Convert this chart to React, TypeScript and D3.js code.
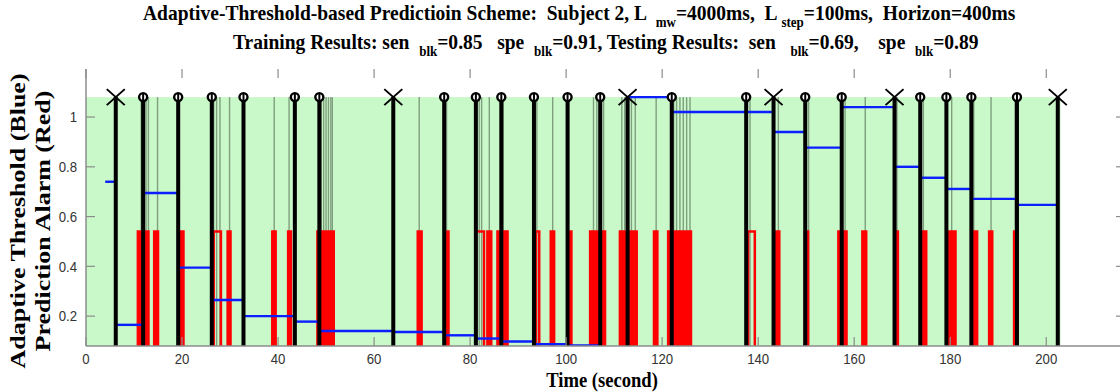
import * as d3 from "d3";

// seizure onsets: predicted (circle) and missed (cross)
const hitTimes = [11.9, 19.2, 26.2, 32.8, 43.5, 48.6, 74.6, 81.2, 86.5, 93.3, 100.3, 107.1, 122.0, 137.5, 149.8, 157.4, 173.75, 179.2, 184.4, 193.9];
const missTimes = [6.2, 64.0, 112.8, 143.2, 168.4, 202.4];

// adaptive threshold, one level per interval
const thrStart = [4.0, 6.2, 11.9, 19.2, 26.2, 32.8, 43.5, 48.6, 64.0, 74.6, 81.2, 86.5, 93.3, 100.3, 107.1, 112.8, 122.0, 143.2, 149.8, 157.4, 168.4, 173.75, 179.2, 184.4, 193.9];
const thrEnd = [6.2, 11.9, 19.2, 26.2, 32.8, 43.5, 48.6, 64.0, 74.6, 81.2, 86.5, 93.3, 100.3, 107.1, 112.8, 122.0, 143.2, 149.8, 157.4, 168.4, 173.75, 179.2, 184.4, 193.9, 202.4];
const thrLevel = [0.74, 0.165, 0.695, 0.395, 0.265, 0.2, 0.178, 0.14, 0.136, 0.123, 0.11, 0.098, 0.087, 0.082, 0.07, 1.08, 1.02, 0.94, 0.877, 1.04, 0.8, 0.756, 0.711, 0.671, 0.647];

// prediction alarm bursts (on intervals), level when on
const alarmLevel = 0.54;
const openBursts: [number, number][] = [[26.6, 28.1], [81.2, 82.9], [93.7, 94.4], [137.9, 139.3]];
const solidBursts: [number, number][] = [
  [10.8, 13.0], [14.2, 15.0], [19.6, 20.3], [29.5, 30.1], [38.8, 39.5], [42.1, 42.7], [48.2, 51.6],
  [69.1, 69.9], [74.8, 75.5], [83.6, 84.4], [85.7, 87.8], [96.8, 97.5], [100.6, 101.1], [105.0, 107.2],
  [107.6, 108.1], [111.2, 112.8], [113.1, 114.7], [118.3, 119.0], [121.25, 126.0], [143.5, 144.4],
  [149.7, 150.4], [156.7, 158.4], [161.7, 162.5], [168.6, 169.1], [174.2, 175.0], [179.6, 181.1],
  [184.6, 185.6], [188.1, 188.75], [193.3, 194.0],
];

// alarm marks shown as thin grey lines
const alarmMarks = [11.5, 12.5, 13.0, 14.9, 26.6, 27.2, 27.9, 29.9, 39.2, 42.3, 49.0, 49.5, 50.0, 50.5, 51.0, 51.3, 69.4, 75.1, 81.4, 81.9, 82.4, 84.0, 86.9, 93.9, 97.2, 100.5, 105.7, 106.4, 107.8, 111.6, 112.2, 113.0, 113.6, 114.4, 118.75, 122.4, 123.0, 123.7, 124.4, 125.1, 125.8, 138.3, 144.2, 150.5, 158.1, 162.3, 168.9, 174.4, 180.3, 184.9, 188.5, 193.5];

const xTicks = [0, 20, 40, 60, 80, 100, 120, 140, 160, 180, 200];
const yTicks = [0.2, 0.4, 0.6, 0.8, 1];
const yTickLabels = ["0.2", "0.4", "0.6", "0.8", "1"];
const testEnd = 203.0;
const patchTop = 1.08;

export default function App() {
  const W = 1120;
  const H = 392;
  const x = d3.scaleLinear().domain([0, 216.4]).range([86, 1125]);
  const y = d3.scaleLinear().domain([0.08, 1.193]).range([346, 69]);
  const y0 = y.range()[0];
  const yTop = y.range()[1];
  const x0 = x.range()[0];
  const x1 = x.range()[1];

  const seg = d3.line<[number, number]>().x((d) => x(d[0])).y((d) => y(d[1]));
  const burstPath = (b: [number, number]) =>
    seg([[b[0], 0.0], [b[0], alarmLevel], [b[1], alarmLevel], [b[1], 0.0]]) as string;

  const serif = "'Liberation Serif', 'Times New Roman', serif";
  const sans = "'Liberation Sans', Arial, sans-serif";

  return (
    <svg width={W} height={H} style={{ position: "absolute", left: 0, top: 0, background: "#fff" }}>
      <defs>
        <clipPath id="plotClip">
          <rect x={x0} y={yTop - 20} width={x1 - x0} height={y0 - yTop + 20} />
        </clipPath>
      </defs>

      {/* test period patch */}
      <rect x={x(0)} y={y(patchTop)} width={x(testEnd) - x(0)} height={y0 - y(patchTop)} fill="#c9f8c9" />

      <g clipPath="url(#plotClip)">
        {alarmMarks.map((t, i) => (
          <line key={"g" + i} x1={x(t)} x2={x(t)} y1={y0} y2={y(patchTop)} stroke="#7f9f7f" strokeWidth={1.4} />
        ))}

        {solidBursts.map((b, i) => (
          <path key={"s" + i} d={burstPath(b) + "Z"} fill="#ff0000" stroke="#ff0000" strokeWidth={2.5} />
        ))}
        {openBursts.map((b, i) => (
          <path key={"o" + i} d={burstPath(b)} fill="none" stroke="#ff0000" strokeWidth={2.5} />
        ))}

        {thrStart.map((s, i) => (
          <line key={"t" + i} x1={x(s)} x2={x(thrEnd[i])} y1={y(thrLevel[i])} y2={y(thrLevel[i])} stroke="#0a1eff" strokeWidth={2.4} />
        ))}

        {[...hitTimes, ...missTimes].map((t, i) => (
          <line key={"e" + i} x1={x(t)} x2={x(t)} y1={y0} y2={y(patchTop)} stroke="#000" strokeWidth={4} />
        ))}
      </g>

      {hitTimes.map((t, i) => (
        <circle key={"c" + i} cx={x(t)} cy={y(patchTop)} r={4} fill="#fff" stroke="#000" strokeWidth={2.4} />
      ))}
      {hitTimes.map((t, i) => (
        <line key={"cl" + i} x1={x(t)} x2={x(t)} y1={y(patchTop) - 3.5} y2={y(patchTop) + 3.5} stroke="#000" strokeWidth={2} />
      ))}
      {missTimes.map((t, i) => (
        <path
          key={"x" + i}
          d={`M${x(t) - 9},${y(patchTop) - 8}L${x(t) + 9},${y(patchTop) + 8}M${x(t) - 9},${y(patchTop) + 8}L${x(t) + 9},${y(patchTop) - 8}`}
          stroke="#000"
          strokeWidth={2}
          fill="none"
        />
      ))}

      {/* axes */}
      <line x1={x0} x2={x0} y1={yTop} y2={y0} stroke="#8c8c8c" strokeWidth={1.5} />
      <line x1={x0} x2={x1} y1={y0} y2={y0} stroke="#8c8c8c" strokeWidth={1.5} />
      {xTicks.map((t) => (
        <g key={"xt" + t}>
          <line x1={x(t)} x2={x(t)} y1={y0} y2={y0 - 9} stroke="#8c8c8c" strokeWidth={1.2} />
          <line x1={x(t)} x2={x(t)} y1={yTop} y2={yTop + 9} stroke="#8c8c8c" strokeWidth={1.2} />
          <g transform={`translate(${x(t)},${y0 + 13}) scale(0.88,1)`}>
            <text textAnchor="middle" dominantBaseline="central" fontFamily={sans} fontSize={15} fill="#333">
              {t}
            </text>
          </g>
        </g>
      ))}
      {yTicks.map((t, i) => (
        <g key={"yt" + t}>
          <line x1={x0} x2={x0 + 9} y1={y(t)} y2={y(t)} stroke="#8c8c8c" strokeWidth={1.2} />
          <line x1={x1} x2={x1 - 9} y1={y(t)} y2={y(t)} stroke="#8c8c8c" strokeWidth={1.2} />
          <g transform={`translate(${x0 - 9},${y(t)}) scale(0.88,1)`}>
            <text textAnchor="end" dominantBaseline="central" fontFamily={sans} fontSize={15} fill="#333">
              {yTickLabels[i]}
            </text>
          </g>
        </g>
      ))}

      {/* titles */}
      <g transform={`translate(143,20) scale(0.93,1)`}>
        <text fontFamily={serif} fontWeight="bold" fontSize={21} fill="#000" style={{ whiteSpace: "pre" }}>
          <tspan>Adaptive-Threshold-based Predictioin Scheme:  Subject 2, L  </tspan>
          <tspan dy={7} fontSize={14}>mw</tspan>
          <tspan dy={-7}>=4000ms,  L </tspan>
          <tspan dy={7} fontSize={14}>step</tspan>
          <tspan dy={-7}>=100ms,  Horizon=400ms</tspan>
        </text>
      </g>
      <g transform={`translate(233,49) scale(0.93,1)`}>
        <text fontFamily={serif} fontWeight="bold" fontSize={21} fill="#000" style={{ whiteSpace: "pre" }}>
          <tspan>Training Results: sen  </tspan>
          <tspan dy={7} fontSize={14}>blk</tspan>
          <tspan dy={-7}>=0.85   spe  </tspan>
          <tspan dy={7} fontSize={14}>blk</tspan>
          <tspan dy={-7}>=0.91, Testing Results:  sen   </tspan>
          <tspan dy={7} fontSize={14}>blk</tspan>
          <tspan dy={-7}>=0.69,    spe  </tspan>
          <tspan dy={7} fontSize={14}>blk</tspan>
          <tspan dy={-7}>=0.89</tspan>
        </text>
      </g>

      <g transform={`translate(18,221) rotate(-90) scale(1,0.82)`}>
        <text textAnchor="middle" dominantBaseline="central" fontFamily={serif} fontWeight="bold" fontSize={26} fill="#000">
          Adaptive Threshold (Blue)
        </text>
      </g>
      <g transform={`translate(43,221) rotate(-90) scale(1,0.82)`}>
        <text textAnchor="middle" dominantBaseline="central" fontFamily={serif} fontWeight="bold" fontSize={26} fill="#000">
          Prediction Alarm (Red)
        </text>
      </g>

      <g transform={`translate(602,380) scale(0.93,1)`}>
        <text textAnchor="middle" dominantBaseline="central" fontFamily={serif} fontWeight="bold" fontSize={20} fill="#000">
          Time (second)
        </text>
      </g>
    </svg>
  );
}
